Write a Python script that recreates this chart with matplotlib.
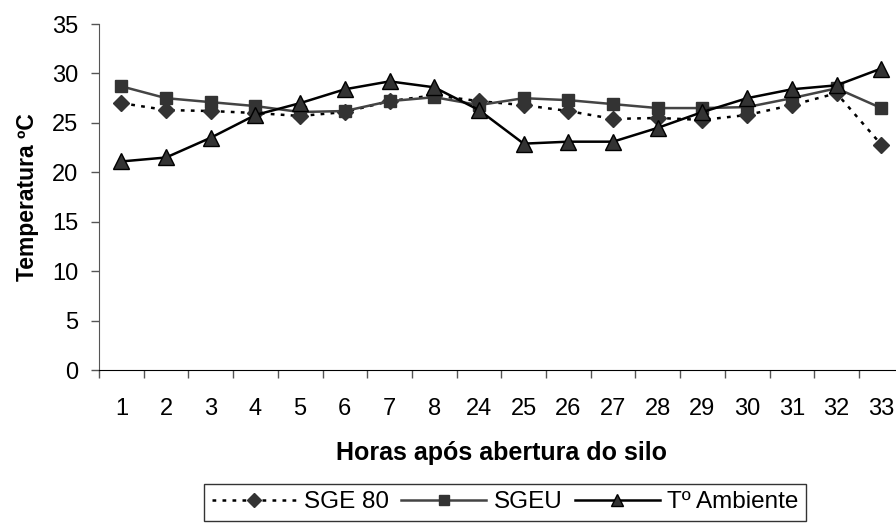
import numpy as np
import matplotlib
matplotlib.use('Agg')
import matplotlib.pyplot as plt

plt.rcParams['font.family'] = ['Liberation Sans', 'DejaVu Sans']

horas = ['1', '2', '3', '4', '5', '6', '7', '8', '24', '25', '26', '27',
         '28', '29', '30', '31', '32', '33']

sge80 = [27.0, 26.3, 26.2, 26.0, 25.7, 26.1, 27.2, 27.8, 27.2, 26.8, 26.2,
         25.4, 25.5, 25.3, 25.8, 26.8, 28.0, 22.8]
sgeu = [28.7, 27.5, 27.1, 26.7, 26.1, 26.2, 27.2, 27.6, 26.8, 27.5, 27.3,
        26.9, 26.5, 26.5, 26.6, 27.5, 28.5, 26.5]
t_ambiente = [21.1, 21.5, 23.5, 25.8, 27.0, 28.4, 29.2, 28.6, 26.3, 22.9,
              23.1, 23.1, 24.5, 26.1, 27.5, 28.4, 28.8, 30.5]

fig = plt.figure(figsize=(8.96, 5.25), dpi=100)
ax = fig.add_axes([0.1105, 0.2952, 0.898, 0.659])

x = np.arange(len(horas))

ax.plot(x, sge80, color='black', lw=1.8, dashes=(1.5, 2.5),
        marker='D', ms=8, mfc='#333333', mec='#333333', label='SGE 80')
ax.plot(x, sgeu, color='#444444', lw=1.8, marker='s', ms=9,
        mfc='#333333', mec='#333333', label='SGEU')
ax.plot(x, t_ambiente, color='black', lw=1.8, marker='^', ms=11,
        mfc='#333333', mec='black', mew=1.0, label='Tº Ambiente')

ax.set_xlim(-0.5, len(horas) - 0.5)
ax.set_ylim(0, 35)
ax.set_yticks(range(0, 36, 5))
ax.set_xticks(x)
ax.set_xticklabels(horas)
ax.set_xticks(np.arange(-0.5, len(horas)), minor=True)

for s in ['top', 'right']:
    ax.spines[s].set_visible(False)
ax.spines['left'].set_color('#555555')
ax.spines['bottom'].set_color('black')

ax.tick_params(axis='y', length=6, width=1, color='#555555', labelsize=17, pad=9)
ax.tick_params(axis='x', which='major', length=0, labelsize=17, pad=20)
ax.tick_params(axis='x', which='minor', length=6, width=1, color='#555555')

ax.set_ylabel('Temperatura ºC', fontsize=16.5, fontweight='bold', labelpad=9)
ax.set_xlabel('Horas após abertura do silo', fontsize=18, fontweight='bold',
              labelpad=15)

leg = fig.legend(loc='upper center', bbox_to_anchor=(505 / 896, 1 - 484 / 525),
                 ncol=3, fontsize=17.5, frameon=True, fancybox=False,
                 handlelength=3.5, handletextpad=0.3, columnspacing=0.5,
                 borderpad=0.3, borderaxespad=0, markerscale=0.85)
leg.get_frame().set_edgecolor('black')
leg.get_frame().set_linewidth(1.0)

fig.savefig('out.png', dpi=100)
